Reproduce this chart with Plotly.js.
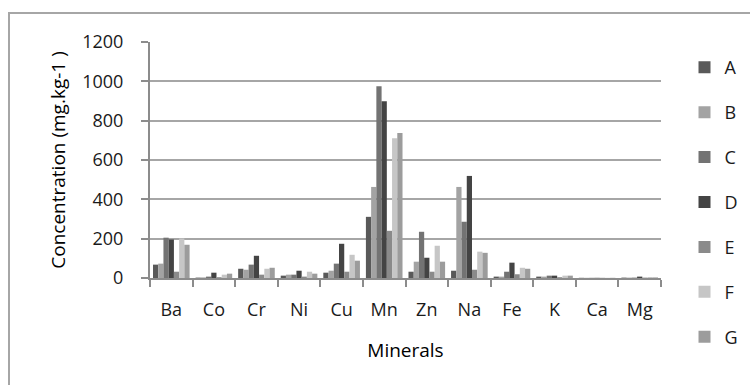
<!DOCTYPE html>
<html>
<head>
<meta charset="utf-8">
<script src="https://cdn.plot.ly/plotly-3.0.1.min.js"></script>
<style>
  html, body { margin: 0; padding: 0; background: #fff; }
  #frame { position: absolute; left: 8px; top: 12px; width: 800px; height: 420px;
           border-left: 2px solid #a6a6a6; border-top: 2px solid #a6a6a6; box-sizing: border-box; }
  #chart { position: absolute; left: 0; top: 0; width: 750px; height: 385px; }
</style>
</head>
<body>
<div id="frame"></div>
<div id="chart"></div>
<script>
const minerals = ["Ba", "Co", "Cr", "Ni", "Cu", "Mn", "Zn", "Na", "Fe", "K", "Ca", "Mg"];
const seriesNames = ["A", "B", "C", "D", "E", "F", "G"];
const A = [68, 2, 47, 12, 27, 311, 32, 37, 7, 7, 1, 2];
const B = [73, 3, 42, 17, 37, 463, 83, 463, 7, 7, 1, 2];
const C = [205, 7, 68, 17, 73, 975, 235, 286, 32, 12, 1, 2];
const D = [196, 27, 113, 37, 174, 899, 103, 519, 78, 12, 1, 7];
const E = [32, 4, 17, 7, 32, 240, 32, 42, 19, 4, 1, 2];
const F = [201, 17, 47, 32, 118, 711, 164, 134, 52, 12, 1, 5];
const G = [169, 22, 52, 22, 88, 737, 83, 128, 47, 12, 1, 3];
const seriesValues = [A, B, C, D, E, F, G];
const colors = ["#595959", "#a3a3a3", "#737373", "#444444", "#8a8a8a", "#c6c6c6", "#9c9c9c"];

const font = "Open Sans, Lato, sans-serif";
const traces = seriesNames.map((name, i) => ({
  type: "bar",
  name: name,
  x: minerals,
  y: seriesValues[i],
  marker: { color: colors[i], line: { width: 0 } },
  legendgroup: name
}));

const layout = {
  width: 750, height: 385,
  margin: { l: 150, r: 89, t: 42, b: 107, autoexpand: false },
  paper_bgcolor: "rgba(0,0,0,0)",
  plot_bgcolor: "rgba(0,0,0,0)",
  barmode: "group",
  bargap: 0.14,
  bargroupgap: 0,
  font: { family: font, color: "#1a1a1a" },
  showlegend: true,
  legend: {
    x: 1.046, xanchor: "left", xref: "paper",
    y: 0.97, yanchor: "top",
    font: { family: font, size: 18, color: "#1a1a1a" },
    tracegroupgap: 18.5,
    itemwidth: 30,
    maxheight: 380,
    bgcolor: "rgba(0,0,0,0)"
  },
  xaxis: {
    type: "category",
    showgrid: false,
    showline: true, linecolor: "#8c8c8c", linewidth: 2,
    ticks: "outside", tickson: "boundaries", ticklen: 7, tickcolor: "#8c8c8c", tickwidth: 2,
    tickfont: { family: font, size: 18, color: "#1a1a1a" },
    ticklabelstandoff: 14,
    title: { text: "Minerals", font: { family: font, size: 19, color: "#000" }, standoff: 24 },
    fixedrange: true
  },
  yaxis: {
    range: [0, 1200],
    dtick: 200,
    showgrid: true, gridcolor: "#a6a6a6", gridwidth: 2,
    showline: true, linecolor: "#8c8c8c", linewidth: 2,
    zeroline: false,
    ticks: "outside", ticklen: 7, tickcolor: "#8c8c8c", tickwidth: 2,
    tickfont: { family: font, size: 18, color: "#1a1a1a" },
    ticklabelstandoff: 14,
    title: { text: "Concentration (mg.kg-1 )", font: { family: font, size: 19, color: "#000" }, standoff: 12 },
    fixedrange: true
  }
};

Plotly.newPlot("chart", traces, layout, { staticPlot: true, displayModeBar: false });
</script>
</body>
</html>
